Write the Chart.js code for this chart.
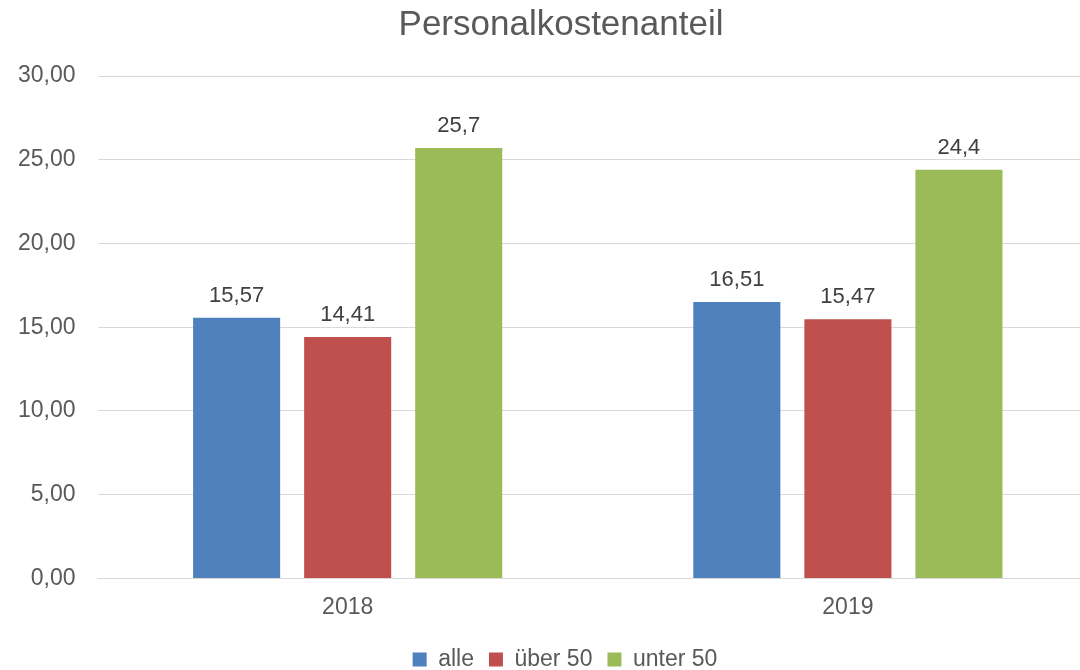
<!DOCTYPE html>
<html>
<head>
<meta charset="utf-8">
<script src="https://cdn.jsdelivr.net/npm/chart.js@4"></script>
<style>
    html, body { margin: 0; padding: 0; background: #fff; overflow: hidden; }
    #wrap { position: relative; width: 1126px; height: 670px; }
</style>
</head>
<body>
<div id="wrap"><canvas id="chart"></canvas></div>
<script>
// Chart data
const years = ['2018', '2019'];
const alle = [15.57, 16.51];
const ueber50 = [14.41, 15.47];
const unter50 = [25.7, 24.4];
const seriesNames = ['alle', 'über 50', 'unter 50'];

const FONT = "'Liberation Sans', Arial, sans-serif";
const TEXT = '#595959';

// Draw value labels above each bar
const valueLabels = {
    id: 'valueLabels',
    afterDatasetsDraw(chart) {
        const ctx = chart.ctx;
        ctx.save();
        ctx.font = '22px ' + FONT;
        ctx.fillStyle = '#404040';
        ctx.textAlign = 'center';
        ctx.textBaseline = 'alphabetic';
        chart.data.datasets.forEach((ds, i) => {
            chart.getDatasetMeta(i).data.forEach((bar, j) => {
                const txt = ds.data[j].toLocaleString('de-DE');
                ctx.fillText(txt, bar.x, bar.y - 16);
            });
        });
        ctx.restore();
    }
};

// Title and legend sit a bit right of the plot centre in the original
const shiftBlocks = {
    id: 'shiftBlocks',
    afterLayout(chart) {
        if (chart.titleBlock) {
            chart.titleBlock.left += 14;
            chart.titleBlock.right += 14;
        }
        if (chart.legend) {
            chart.legend.left += 18;
            chart.legend.right += 18;
        }
    }
};

const ctx = document.getElementById('chart').getContext('2d');
new Chart(ctx, {
    type: 'bar',
    data: {
        labels: years,
        datasets: [
            { label: seriesNames[0], data: alle, backgroundColor: '#4F81BD' },
            { label: seriesNames[1], data: ueber50, backgroundColor: '#C0504D' },
            { label: seriesNames[2], data: unter50, backgroundColor: '#9BBB59' }
        ]
    },
    options: {
        responsive: true,
        maintainAspectRatio: false,
        animation: false,
        categoryPercentage: 0.666,
        barPercentage: 0.784,
        layout: {
            padding: { left: -4, right: 28, top: 4, bottom: -11 }
        },
        plugins: {
            title: {
                display: true,
                text: 'Personalkostenanteil',
                color: TEXT,
                font: { family: FONT, size: 35, weight: 'normal' },
                padding: { top: 0, bottom: 30 }
            },
            legend: {
                display: true,
                position: 'bottom',
                labels: {
                    color: TEXT,
                    font: { family: FONT, size: 23 },
                    boxWidth: 14,
                    boxHeight: 14,
                    padding: 15
                }
            },
            tooltip: { enabled: false }
        },
        scales: {
            x: {
                grid: { display: false, drawTicks: false },
                border: { color: '#d9d9d9', width: 1 },
                ticks: {
                    color: TEXT,
                    font: { family: FONT, size: 23 },
                    padding: 15
                },
                afterFit(scale) {
                    scale.height -= 3;
                }
            },
            y: {
                min: 0,
                max: 30,
                grid: { color: '#d9d9d9', drawTicks: false },
                border: { display: false },
                ticks: {
                    stepSize: 5,
                    color: TEXT,
                    font: { family: FONT, size: 23 },
                    padding: 22,
                    callback: function(value) {
                        return value.toLocaleString('de-DE', { minimumFractionDigits: 2, maximumFractionDigits: 2 });
                    }
                }
            }
        }
    },
    plugins: [valueLabels, shiftBlocks]
});
</script>
</body>
</html>
